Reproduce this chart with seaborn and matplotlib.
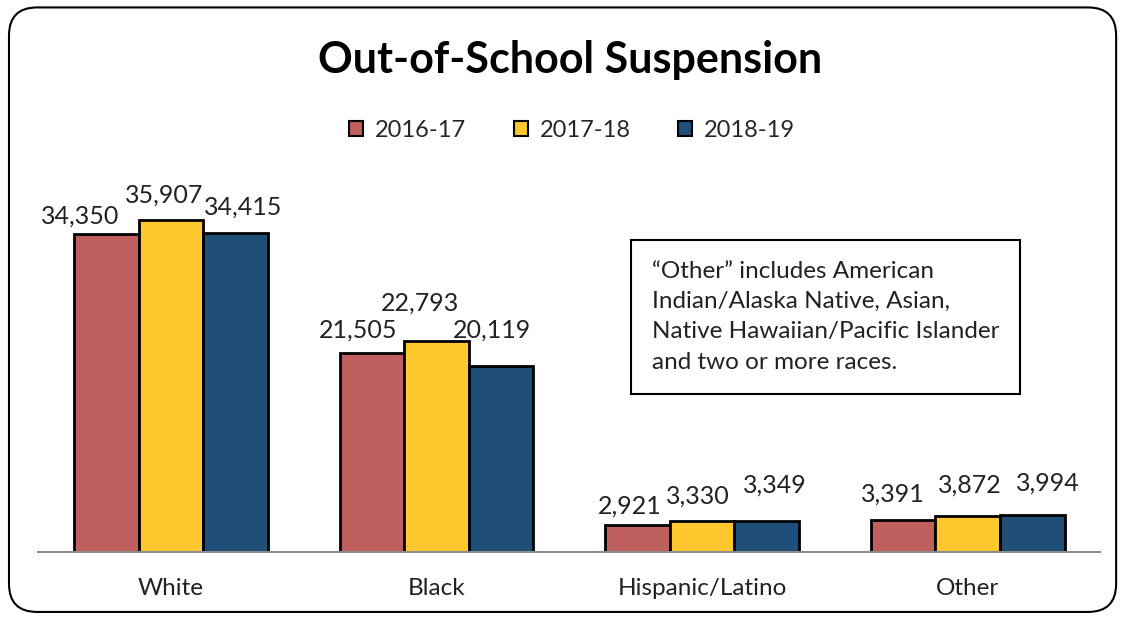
import pandas as pd
import matplotlib
import matplotlib.pyplot as plt
import seaborn as sns
from matplotlib.patches import FancyBboxPatch

matplotlib.use('Agg')

# Dados
grupos = ['White', 'Black', 'Hispanic/Latino', 'Other']
anos = ['2016-17', '2017-18', '2018-19']
valores_2016 = [34350, 21505, 2921, 3391]
valores_2017 = [35907, 22793, 3330, 3872]
valores_2018 = [34415, 20119, 3349, 3994]

cores = ['#C0605E', '#FFC82E', '#1F4E79']

# Deslocamento dos rótulos (pixels: dx, dy acima do topo), como no Excel
desloc_rotulos = [
    [(-26, 18), (-14, 23), (-8, 19), (-10, 26)],
    [(-7, 24), (-17, 38), (-4, 25), (2, 31)],
    [(8, 26), (-9, 36), (8, 36), (16, 32)],
]

df = pd.DataFrame({
    'Grupo': grupos * 3,
    'Ano': [anos[0]] * 4 + [anos[1]] * 4 + [anos[2]] * 4,
    'Suspensoes': valores_2016 + valores_2017 + valores_2018,
})

sns.set_style('white')
plt.rcParams['font.family'] = ['Lato', 'DejaVu Sans']

fig = plt.figure(figsize=(11.24, 6.2), dpi=100)
ax = fig.add_axes([0.034, 0.11, 0.945, 0.597])

sns.barplot(data=df, x='Grupo', y='Suspensoes', hue='Ano', palette=cores,
            saturation=1, width=0.73, edgecolor='black', linewidth=2,
            ax=ax, legend=False)

for cont, desl in zip(ax.containers, desloc_rotulos):
    for barra, v, (dx, dy) in zip(cont.patches, cont.datavalues, desl):
        ax.annotate(f'{v:,.0f}', xy=(barra.get_x() + barra.get_width() / 2, v),
                    xytext=(dx * 0.72, dy * 0.72), textcoords='offset points',
                    ha='center', va='center', fontsize=18, color='#222222')

ax.set_xlim(-0.5, 3.5)
ax.set_ylim(0, 40000)
ax.set_xlabel('')
ax.set_ylabel('')
ax.set_yticks([])
ax.tick_params(axis='x', length=0, labelsize=17.5, pad=19, colors='#222222')
for lado in ['left', 'right', 'top']:
    ax.spines[lado].set_visible(False)
ax.spines['bottom'].set_color('#8C8C8C')
ax.spines['bottom'].set_linewidth(1.5)

# Legenda manual
handles = [plt.Rectangle((0, 0), 1, 1, facecolor=c, edgecolor='black', linewidth=1.5) for c in cores]
fig.legend(handles, anos, loc='center', bbox_to_anchor=(0.509, 0.79), ncol=3,
           frameon=False, fontsize=17, handlelength=0.6, handleheight=0.6,
           columnspacing=2.0, handletextpad=0.5)

fig.text(0.507, 0.903, 'Out-of-School Suspension', ha='center', va='center',
         fontsize=31, fontweight='bold', color='black')

# Caixa com nota
fig.text(0.580, 0.489, '“Other” includes American\nIndian/Alaska Native, Asian,\n'
         'Native Hawaiian/Pacific Islander\nand two or more races.',
         ha='left', va='center', fontsize=17.5, linespacing=1.55, color='#222222',
         bbox=dict(boxstyle='square,pad=0.85', facecolor='white', edgecolor='black', linewidth=1.5))

# Borda arredondada da figura
borda = FancyBboxPatch((0.008, 0.013), 0.985, 0.975, boxstyle='round,pad=0,rounding_size=0.025',
                       transform=fig.transFigure, facecolor='none', edgecolor='black',
                       linewidth=1.5, mutation_aspect=1124 / 620)
fig.patches.append(borda)

plt.savefig('out.png', dpi=100)
plt.close()
